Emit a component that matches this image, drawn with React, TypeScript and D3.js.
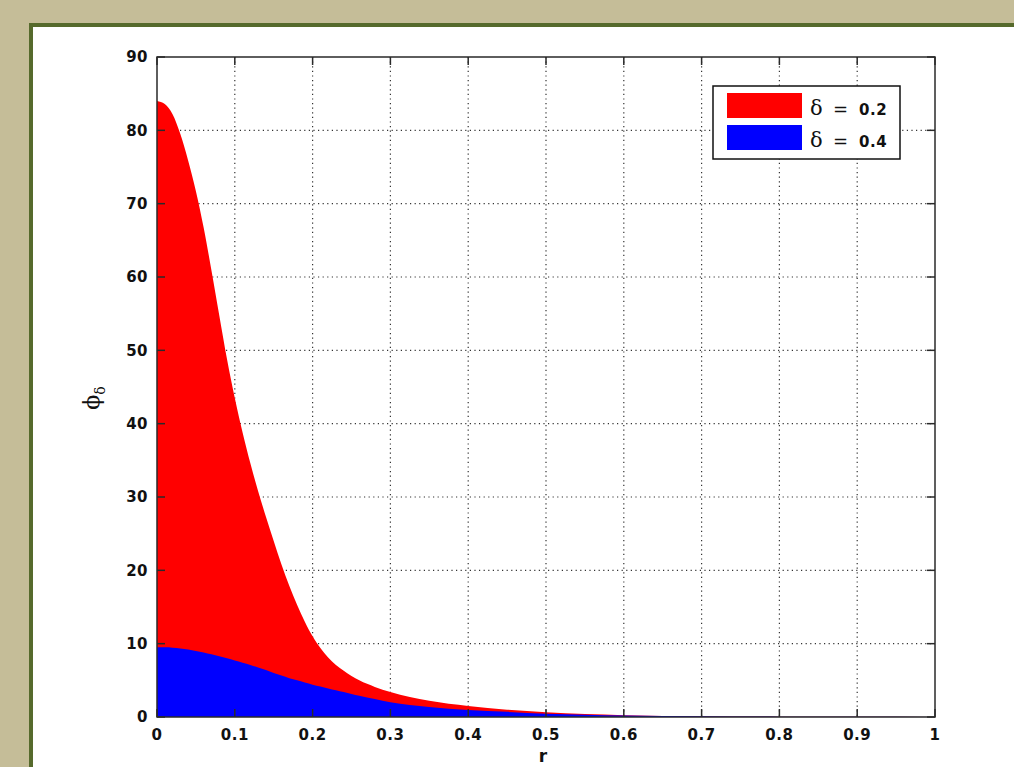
import React, { useRef, useEffect } from "react";
import * as d3 from "d3";

// r grid shared by both curves
const rValues = [
  0, 0.01, 0.02, 0.03, 0.04, 0.05, 0.06, 0.07, 0.08, 0.09, 0.1, 0.11, 0.12, 0.13, 0.14,
  0.15, 0.16, 0.17, 0.18, 0.19, 0.2, 0.21, 0.22, 0.23, 0.24, 0.25, 0.26, 0.28, 0.3, 0.35,
  0.4, 0.45, 0.5, 0.55, 0.6, 0.7, 0.8, 0.9, 1.0,
];
// delta = 0.2
const phiDelta02 = [
  84, 83.6, 82.2, 79.5, 75.9, 71.7, 66.7, 60.9, 54.8, 48.8, 43.5, 38.8, 34.6, 30.8, 27.3,
  24.0, 20.8, 17.9, 15.3, 13.0, 11.0, 9.4, 8.1, 7.1, 6.3, 5.6, 5.0, 4.1, 3.4, 2.2,
  1.5, 1.0, 0.65, 0.4, 0.25, 0.1, 0.05, 0.02, 0,
];
// delta = 0.4
const phiDelta04 = [
  9.5, 9.5, 9.45, 9.35, 9.2, 9.0, 8.8, 8.55, 8.3, 8.0, 7.7, 7.4, 7.1, 6.75, 6.4,
  6.0, 5.65, 5.3, 5.0, 4.7, 4.4, 4.15, 3.9, 3.65, 3.4, 3.15, 2.9, 2.45, 2.0, 1.35,
  0.95, 0.7, 0.45, 0.3, 0.2, 0.1, 0.05, 0.02, 0,
];
const xTicks = [0, 0.1, 0.2, 0.3, 0.4, 0.5, 0.6, 0.7, 0.8, 0.9, 1];
const yTicks = [0, 10, 20, 30, 40, 50, 60, 70, 80, 90];
const legendLabels = ["0.2", "0.4"];
const seriesColors = ["#ff0000", "#0000ff"];

const App = () => {
  const svgRef = useRef<SVGSVGElement>(null);

  useEffect(() => {
    const svg = d3.select(svgRef.current);
    svg.selectAll("*").remove();
    const width = 1014;
    const height = 767;
    const plot = { left: 157, right: 935, top: 57, bottom: 717 };

    // background + framed panel
    svg.append("rect").attr("width", width).attr("height", height).attr("fill", "#c5bd98");
    svg
      .append("rect")
      .attr("x", 31)
      .attr("y", 25)
      .attr("width", width)
      .attr("height", height)
      .attr("fill", "#ffffff")
      .attr("stroke", "#566a2c")
      .attr("stroke-width", 4);

    const x = d3.scaleLinear().domain([0, 1]).range([plot.left, plot.right]);
    const y = d3.scaleLinear().domain([0, 90]).range([plot.bottom, plot.top]);

    // dotted grid
    const grid = svg.append("g").attr("stroke", "#333").attr("stroke-width", 1.2).attr("stroke-dasharray", "1.2,3.4");
    grid
      .selectAll("line.v")
      .data(xTicks.slice(1, -1))
      .join("line")
      .attr("class", "v")
      .attr("x1", (d) => x(d))
      .attr("x2", (d) => x(d))
      .attr("y1", plot.top)
      .attr("y2", plot.bottom);
    grid
      .selectAll("line.h")
      .data(yTicks.slice(1, -1))
      .join("line")
      .attr("class", "h")
      .attr("y1", (d) => y(d))
      .attr("y2", (d) => y(d))
      .attr("x1", plot.left)
      .attr("x2", plot.right);

    // filled areas
    const series = [phiDelta02, phiDelta04];
    series.forEach((vals, i) => {
      const area = d3
        .area<number>()
        .x((_, j) => x(rValues[j]))
        .y0(y(0))
        .y1((d) => y(d))
        .curve(d3.curveMonotoneX);
      svg.append("path").datum(vals).attr("d", area).attr("fill", seriesColors[i]);
    });

    // box
    svg
      .append("rect")
      .attr("x", plot.left)
      .attr("y", plot.top)
      .attr("width", plot.right - plot.left)
      .attr("height", plot.bottom - plot.top)
      .attr("fill", "none")
      .attr("stroke", "#2a2a2a")
      .attr("stroke-width", 1.5);

    // inward ticks on all sides
    const ticks = svg.append("g").attr("stroke", "#2a2a2a").attr("stroke-width", 1.5);
    xTicks.forEach((t) => {
      ticks.append("line").attr("x1", x(t)).attr("x2", x(t)).attr("y1", plot.bottom).attr("y2", plot.bottom - 8);
      ticks.append("line").attr("x1", x(t)).attr("x2", x(t)).attr("y1", plot.top).attr("y2", plot.top + 8);
    });
    yTicks.forEach((t) => {
      ticks.append("line").attr("y1", y(t)).attr("y2", y(t)).attr("x1", plot.left).attr("x2", plot.left + 8);
      ticks.append("line").attr("y1", y(t)).attr("y2", y(t)).attr("x1", plot.right).attr("x2", plot.right - 8);
    });

    // tick labels
    const font = "'DejaVu Sans', Verdana, sans-serif";
    svg
      .append("g")
      .selectAll("text")
      .data(xTicks)
      .join("text")
      .attr("x", (d) => x(d))
      .attr("y", 740)
      .attr("text-anchor", "middle")
      .attr("font-family", font)
      .attr("font-weight", "bold")
      .attr("font-size", 15)
      .attr("letter-spacing", 0.5)
      .attr("fill", "#111")
      .text((d) => String(d));
    svg
      .append("g")
      .selectAll("text")
      .data(yTicks)
      .join("text")
      .attr("x", 148)
      .attr("y", (d) => y(d))
      .attr("dy", "0.36em")
      .attr("text-anchor", "end")
      .attr("font-family", font)
      .attr("font-weight", "bold")
      .attr("font-size", 15)
      .attr("letter-spacing", 0.5)
      .attr("fill", "#111")
      .text((d) => String(d));

    // axis titles
    svg
      .append("text")
      .attr("x", (plot.left + plot.right) / 2 - 3)
      .attr("y", 762)
      .attr("text-anchor", "middle")
      .attr("font-family", font)
      .attr("font-weight", "bold")
      .attr("font-size", 17)
      .attr("fill", "#111")
      .text("r");
    const yLab = svg
      .append("text")
      .attr("transform", "translate(99,398) rotate(-90)")
      .attr("text-anchor", "middle")
      .attr("font-family", "'DejaVu Serif', serif")
      .attr("font-size", 22)
      .attr("fill", "#111");
    yLab.append("tspan").text("ϕ");
    yLab.append("tspan").attr("dy", 6).attr("font-size", 14).text("δ");

    // legend
    const lg = svg.append("g");
    lg.append("rect")
      .attr("x", 713)
      .attr("y", 86)
      .attr("width", 187)
      .attr("height", 73)
      .attr("fill", "#fff")
      .attr("stroke", "#111")
      .attr("stroke-width", 1.5);
    legendLabels.forEach((lab, i) => {
      const yy = 93 + i * 32;
      lg.append("rect").attr("x", 727).attr("y", yy).attr("width", 75).attr("height", 25).attr("fill", seriesColors[i]);
      const t = lg.append("text").attr("y", yy + 22).attr("fill", "#111");
      t.append("tspan").attr("x", 810).attr("font-family", "'DejaVu Serif', serif").attr("font-size", 21).text("δ");
      t.append("tspan").attr("x", 833).attr("font-family", "'DejaVu Sans', sans-serif").attr("font-size", 18).text("=");
      t.append("tspan")
        .attr("x", 859)
        .attr("font-family", font)
        .attr("font-weight", "bold")
        .attr("font-size", 15)
        .attr("letter-spacing", 0.5)
        .text(lab);
    });
  }, []);

  return (
    <div style={{ position: "absolute", left: 0, top: 0 }}>
      <svg ref={svgRef} width={1014} height={767} style={{ display: "block" }}></svg>
    </div>
  );
};

export default App;
